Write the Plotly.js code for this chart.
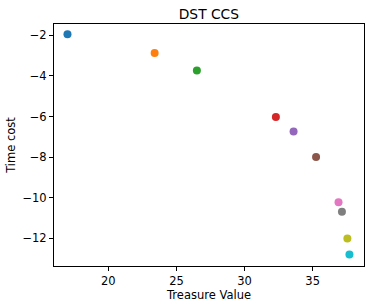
<!DOCTYPE html>
<html>
<head>
<meta charset="utf-8">
<script src="https://cdn.plot.ly/plotly-3.0.1.min.js"></script>
<style>html,body{margin:0;padding:0;background:#fff;}#chart{width:375px;height:306px;}</style>
</head>
<body>
<div id="chart"></div>
<script>
const treasureValue = [17.0, 23.4, 26.5, 32.3, 33.6, 35.25, 36.9, 37.15, 37.55, 37.7];
const timeCost = [-1.95, -2.87, -3.73, -6.03, -6.74, -8.0, -10.23, -10.7, -12.02, -12.8];
const pointColors = ['#1f77b4','#ff7f0e','#2ca02c','#d62728','#9467bd','#8c564b','#e377c2','#7f7f7f','#bcbd22','#17becf'];

const axisCommon = {
  showline: true, linecolor: '#000', linewidth: 1, mirror: true,
  ticks: 'outside', ticklen: 4, tickwidth: 1, tickcolor: '#000',
  showgrid: false, zeroline: false,
  tickfont: {family: 'DejaVu Sans', size: 11.5, color: '#000'}
};

Plotly.newPlot('chart', [{
  x: treasureValue, y: timeCost, type: 'scatter', mode: 'markers',
  marker: {color: pointColors, size: 8},
  hoverinfo: 'none'
}], {
  width: 375, height: 306,
  margin: {l: 54, r: 11, t: 24, b: 40},
  paper_bgcolor: '#fff', plot_bgcolor: '#fff',
  showlegend: false,
  title: {text: 'DST CCS', font: {family: 'DejaVu Sans', size: 13.8, color: '#000'}, x: 0.557, xanchor: 'center', y: 0.955, yanchor: 'middle'},
  xaxis: Object.assign({}, axisCommon, {
    range: [16.01, 38.77], tickvals: [20, 25, 30, 35],
    title: {text: 'Treasure Value', font: {family: 'DejaVu Sans', size: 11.5, color: '#000'}, standoff: 3}
  }),
  yaxis: Object.assign({}, axisCommon, {
    range: [-13.37, -1.44], tickvals: [-2, -4, -6, -8, -10, -12],
    title: {text: 'Time cost', font: {family: 'DejaVu Sans', size: 11.5, color: '#000'}, standoff: 4}
  })
}, {staticPlot: true});
</script>
</body>
</html>
